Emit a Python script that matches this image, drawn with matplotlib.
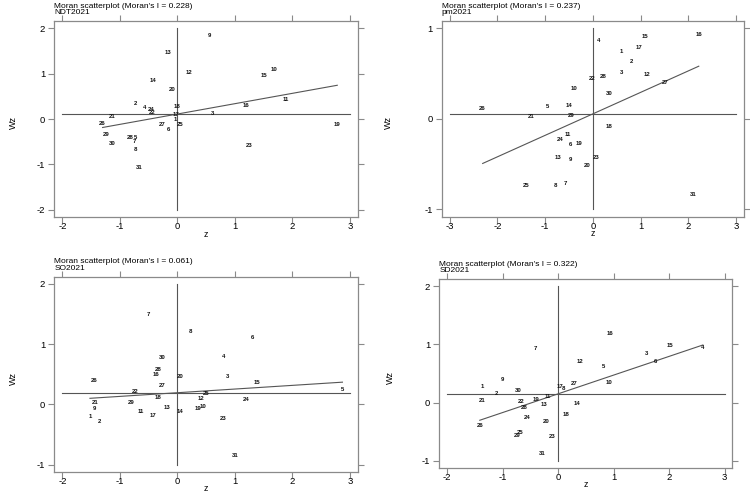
import numpy as np
import matplotlib
matplotlib.use('Agg')
import matplotlib.pyplot as plt

plt.rcParams['font.family'] = ['Liberation Sans', 'DejaVu Sans']

## Panel data: region ids, standardized z, spatial lag Wz
ndt_ids = [9, 13, 12, 10, 15, 14, 20, 11, 16, 2, 4, 24, 22, 18, 17, 3, 21, 1, 26, 27,
           25, 19, 6, 29, 28, 5, 7, 30, 23, 8, 31]
ndt_z = [0.55, -0.16, 0.21, 1.68, 1.51, -0.42, -0.09, 1.89, 1.19, -0.72, -0.57, -0.46,
         -0.44, 0.00, -0.03, 0.61, -1.13, -0.03, -1.30, -0.27, 0.04, 2.78, -0.16, -1.23,
         -0.82, -0.73, -0.74, -1.14, 1.25, -0.73, -0.67]
ndt_wz = [1.84, 1.47, 1.02, 1.09, 0.97, 0.84, 0.64, 0.43, 0.29, 0.34, 0.26, 0.21, 0.15,
          0.27, 0.10, 0.12, 0.05, 0.00, -0.10, -0.11, -0.11, -0.13, -0.23, -0.34, -0.41,
          -0.41, -0.50, -0.55, -0.59, -0.68, -1.07]

pm_ids = [16, 15, 4, 17, 1, 2, 3, 12, 22, 28, 27, 10, 30, 5, 14, 26, 21, 29, 18, 11,
          24, 6, 19, 13, 9, 23, 20, 7, 25, 8, 31]
pm_z = [2.22, 1.10, 0.12, 0.97, 0.60, 0.82, 0.60, 1.14, -0.01, 0.22, 1.51, -0.40, 0.35,
        -0.96, -0.51, -2.31, -1.30, -0.45, 0.33, -0.53, -0.68, -0.46, -0.30, -0.74, -0.46,
        0.07, -0.12, -0.57, -1.40, -0.78, 2.11]
pm_wz = [0.93, 0.91, 0.87, 0.79, 0.74, 0.63, 0.51, 0.49, 0.45, 0.47, 0.40, 0.33, 0.28,
         0.14, 0.15, 0.11, 0.03, 0.04, -0.09, -0.17, -0.23, -0.28, -0.27, -0.43, -0.45,
         -0.43, -0.52, -0.71, -0.74, -0.74, -0.83]

so_ids = [7, 8, 6, 30, 4, 28, 16, 20, 3, 26, 15, 27, 5, 22, 25, 18, 12, 24, 21, 29,
          13, 10, 19, 9, 11, 14, 17, 1, 23, 2, 31]
so_z = [-0.51, 0.23, 1.30, -0.27, 0.80, -0.34, -0.38, 0.05, 0.88, -1.45, 1.38, -0.27,
        2.87, -0.74, 0.50, -0.34, 0.41, 1.20, -1.43, -0.80, -0.18, 0.45, 0.36, -1.44,
        -0.63, 0.05, -0.43, -1.52, 0.79, -1.35, 1.00]
so_wz = [1.50, 1.21, 1.11, 0.78, 0.80, 0.58, 0.49, 0.46, 0.47, 0.40, 0.37, 0.31, 0.25,
         0.22, 0.18, 0.12, 0.10, 0.08, 0.04, 0.03, -0.05, -0.04, -0.07, -0.06, -0.11,
         -0.11, -0.19, -0.20, -0.24, -0.29, -0.84]

sd_ids = [16, 15, 4, 7, 3, 6, 12, 5, 9, 10, 27, 1, 17, 8, 30, 2, 11, 19, 21, 22, 14,
          13, 28, 18, 24, 20, 26, 25, 29, 23, 31]
sd_z = [0.94, 2.01, 2.61, -0.40, 1.59, 1.75, 0.40, 0.82, -1.00, 0.92, 0.30, -1.37, 0.04,
        0.10, -0.71, -1.10, -0.18, -0.40, -1.36, -0.67, 0.34, -0.26, -0.61, 0.15, -0.55,
        -0.21, -1.41, -0.68, -0.74, -0.11, -0.29]
sd_wz = [1.18, 0.99, 0.94, 0.93, 0.84, 0.71, 0.71, 0.62, 0.40, 0.35, 0.32, 0.27, 0.28,
         0.24, 0.21, 0.15, 0.11, 0.05, 0.04, 0.01, -0.01, -0.04, -0.08, -0.20, -0.26,
         -0.32, -0.40, -0.51, -0.56, -0.58, -0.87]

## Moran's I (slope) and mean of Wz (horizontal reference line)
names = ['NDT2021', 'pm2021', 'SO2021', 'SD2021']
moran_i = [0.228, 0.237, 0.061, 0.322]
mean_wz = [0.11, 0.055, 0.195, 0.15]
x_ticks = [[-2, -1, 0, 1, 2, 3], [-3, -2, -1, 0, 1, 2, 3], [-2, -1, 0, 1, 2, 3], [-2, -1, 0, 1, 2, 3]]
y_ticks = [[-2, -1, 0, 1, 2], [-1, 0, 1], [-1, 0, 1, 2], [-1, 0, 1, 2]]

panels = [(ndt_ids, ndt_z, ndt_wz), (pm_ids, pm_z, pm_wz),
          (so_ids, so_z, so_wz), (sd_ids, sd_z, sd_wz)]

# axes boxes [left, bottom, width, height] in figure fraction, and "Wz" label x (axes fraction)
boxes = [[0.0724, 0.5589, 0.4049, 0.3984],
         [0.5890, 0.5596, 0.4030, 0.3977],
         [0.0724, 0.0407, 0.4049, 0.3969],
         [0.5857, 0.0494, 0.3907, 0.3829]]
ylab_x = [-0.12, -0.161, -0.12, -0.152]
frame_col = '#8a8a8a'
line_col = '#555555'

fig = plt.figure(figsize=(7.5, 4.92), dpi=100)

for k, (ids, z, wz) in enumerate(panels):
   ax = fig.add_axes(boxes[k])
   xt = x_ticks[k];   yt = y_ticks[k]
   xpad = 0.028*(xt[-1]-xt[0]);   ypad = 0.04*(yt[-1]-yt[0])
   ax.set_xlim(xt[0]-xpad, xt[-1]+xpad)
   ax.set_ylim(yt[0]-ypad, yt[-1]+ypad)
   # reference lines
   ax.plot([xt[0], xt[-1]], [mean_wz[k], mean_wz[k]], color=line_col, lw=0.8)
   ax.plot([0, 0], [yt[0], yt[-1]], color=line_col, lw=0.8)
   # fitted line, slope = Moran's I
   zz = np.array([min(z), max(z)])
   ax.plot(zz, mean_wz[k] + moran_i[k]*zz, color=line_col, lw=0.8)
   # region labels as markers
   for i, zi, wi in zip(ids, z, wz):
      ax.text(zi, wi, str(i), fontsize=4.3, fontweight='bold', ha='center', va='center', color='#111111')
   ax.set_xticks(xt);   ax.set_yticks(yt)
   ax.set_xticklabels([str(v) for v in xt]);   ax.set_yticklabels([str(v) for v in yt])
   ax.tick_params(axis='both', which='both', direction='out', length=4, width=0.8, color=frame_col,
                  labelsize=6.8, top=True, right=True, labeltop=False, labelright=False)
   ax.tick_params(axis='x', pad=-0.5)
   ax.tick_params(axis='y', pad=2.5)
   for s in ax.spines.values():
      s.set_color(frame_col);   s.set_linewidth(0.9)
   ax.set_xlabel('z', fontsize=6.3)
   ax.set_ylabel('Wz', fontsize=6.5)
   ax.xaxis.set_label_coords(0.5, -0.064)
   ax.yaxis.set_label_coords(ylab_x[k], 0.48)
   ax.annotate("Moran scatterplot (Moran's I = %.3f)\n%s" % (moran_i[k], names[k]),
               xy=(0, 1), xycoords='axes fraction', xytext=(0, 3.5), textcoords='offset points',
               ha='left', va='bottom', fontsize=6, linespacing=0.9)

plt.savefig('out.png', dpi=100)
